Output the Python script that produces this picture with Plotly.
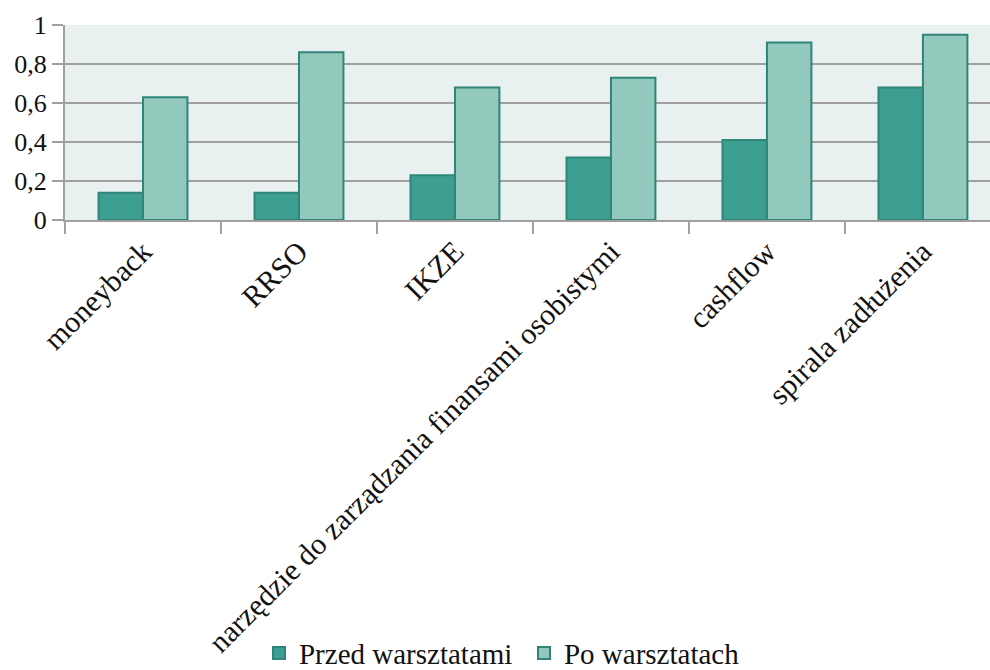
import plotly.graph_objects as go

# Survey results: share of participants familiar with each term
categories = [
    "moneyback",
    "RRSO",
    "IKZE",
    "narzędzie do zarządzania finansami osobistymi",
    "cashflow",
    "spirala zadłużenia",
]
before = [0.14, 0.14, 0.23, 0.32, 0.41, 0.68]
after = [0.63, 0.86, 0.68, 0.73, 0.91, 0.95]
series_names = ["Przed warsztatami", "Po warsztatach"]

y_tick_vals = [0, 0.2, 0.4, 0.6, 0.8, 1]
y_tick_text = ["0", "0,2", "0,4", "0,6", "0,8", "1"]

FONT = "Liberation Serif"
EDGE = "#2e8578"
GRID = "#a0a0a0"

fig = go.Figure()
fig.add_trace(go.Bar(
    x=categories, y=before, name=series_names[0],
    marker=dict(color="#3c9f91", line=dict(color=EDGE, width=2)),
))
fig.add_trace(go.Bar(
    x=categories, y=after, name=series_names[1],
    marker=dict(color="#93c9bd", line=dict(color=EDGE, width=2)),
))

fig.update_layout(
    width=990, height=670,
    margin=dict(l=65, r=0, t=25, b=450, autoexpand=False),
    paper_bgcolor="white",
    plot_bgcolor="#e8f1ef",
    barmode="group",
    bargap=0.43,
    bargroupgap=0,
    font=dict(family=FONT, size=26, color="#111111"),
    showlegend=True,
    legend=dict(
        orientation="h",
        xref="container", yref="container",
        x=0.2616, y=0.025, xanchor="left", yanchor="middle",
        font=dict(family=FONT, size=29),
        itemwidth=30,
        entrywidth=220, entrywidthmode="pixels",
        traceorder="normal",
    ),
)

fig.update_xaxes(
    type="category",
    automargin=False,
    range=[-0.5, 5.43],
    tickangle=-45,
    tickson="boundaries",
    ticks="outside", ticklen=12, tickwidth=2, tickcolor=GRID,
    showline=True, linecolor=GRID, linewidth=2,
    showgrid=False,
    tickfont=dict(family=FONT, size=30),
)
fig.update_yaxes(
    automargin=False,
    range=[0, 1],
    tickvals=y_tick_vals, ticktext=y_tick_text,
    ticks="outside", ticklen=11, tickwidth=2, tickcolor=GRID,
    showline=True, linecolor=GRID, linewidth=2,
    showgrid=True, gridcolor=GRID, gridwidth=2,
    zeroline=False,
    tickfont=dict(family=FONT, size=26),
)

fig.write_html("out.html")
